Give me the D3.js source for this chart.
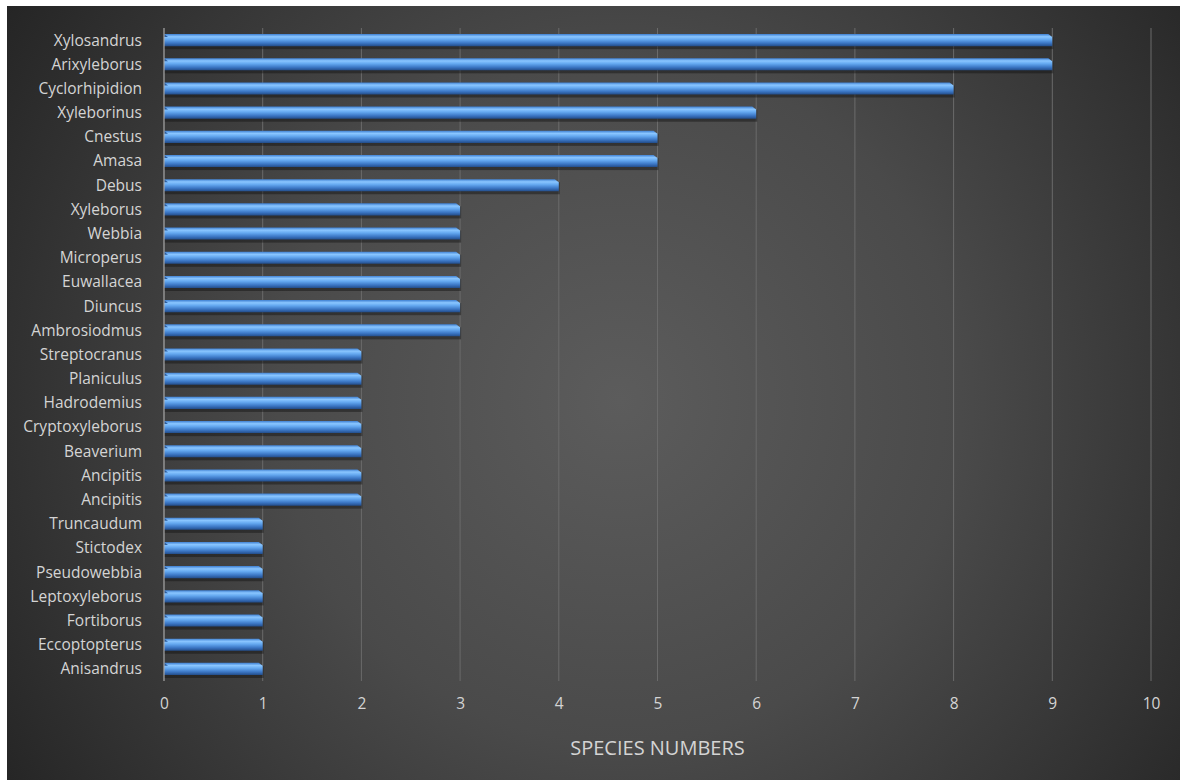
<!DOCTYPE html>
<html>
<head>
<meta charset="utf-8">
<script src="https://cdn.jsdelivr.net/npm/d3@7"></script>
<style>
  html, body { margin: 0; padding: 0; background: #ffffff; }
  svg { display: block; }
</style>
</head>
<body>
<div id="chart"></div>
<script>
// Genus names, top to bottom as shown
const genera = [
    'Xylosandrus', 'Arixyleborus', 'Cyclorhipidion', 'Xyleborinus', 'Cnestus',
    'Amasa', 'Debus', 'Xyleborus', 'Webbia', 'Microperus', 'Euwallacea',
    'Diuncus', 'Ambrosiodmus', 'Streptocranus', 'Planiculus', 'Hadrodemius',
    'Cryptoxyleborus', 'Beaverium', 'Ancipitis', 'Ancipitis', 'Truncaudum',
    'Stictodex', 'Pseudowebbia', 'Leptoxyleborus', 'Fortiborus',
    'Eccoptopterus', 'Anisandrus'
];
// Number of species per genus
const speciesCounts = [9, 9, 8, 6, 5, 5, 4, 3, 3, 3, 3, 3, 3, 2, 2, 2, 2, 2, 2, 2, 1, 1, 1, 1, 1, 1, 1];
const xTicks = [0, 1, 2, 3, 4, 5, 6, 7, 8, 9, 10];
const xTitle = 'SPECIES NUMBERS';

const W = 1180, H = 780;
const margin = { top: 28, right: 29, bottom: 99, left: 164 };
const width = W - margin.left - margin.right;
const height = H - margin.top - margin.bottom;
const font = '"Open Sans", "Noto Sans", sans-serif';
const textColor = '#d4d4d4';

const svg = d3.select('#chart').append('svg')
    .attr('width', W)
    .attr('height', H);

// background and bar gradients
const defs = svg.append('defs');
const bg = defs.append('radialGradient')
    .attr('id', 'bg')
    .attr('gradientUnits', 'userSpaceOnUse')
    .attr('cx', 620).attr('cy', 400).attr('r', 760);
bg.append('stop').attr('offset', '0%').attr('stop-color', '#5c5c5c');
bg.append('stop').attr('offset', '45%').attr('stop-color', '#4a4a4a');
bg.append('stop').attr('offset', '100%').attr('stop-color', '#222222');

const barGrad = defs.append('linearGradient')
    .attr('id', 'barGrad')
    .attr('x1', 0).attr('y1', 0).attr('x2', 0).attr('y2', 1);
[['0%', '#3f80d2'], ['22%', '#8ac6ff'], ['45%', '#64a8f0'], ['75%', '#3b76c4'], ['100%', '#234d8a']]
    .forEach(([o, c]) => barGrad.append('stop').attr('offset', o).attr('stop-color', c));

svg.append('rect').attr('width', W).attr('height', H).attr('fill', '#ffffff');
svg.append('rect')
    .attr('x', 7).attr('y', 6)
    .attr('width', W - 7).attr('height', H - 6)
    .attr('fill', 'url(#bg)');

const g = svg.append('g').attr('transform', `translate(${margin.left},${margin.top})`);

const x = d3.scaleLinear().domain([0, 10]).range([0, width]);
const y = d3.scaleBand()
    .domain(d3.range(genera.length))
    .range([0, height])
    .paddingInner(0.5)
    .paddingOuter(0.25);

// vertical gridlines
g.selectAll('.grid')
    .data(xTicks.slice(1))
    .enter().append('line')
    .attr('x1', d => x(d)).attr('x2', d => x(d))
    .attr('y1', 0).attr('y2', height)
    .attr('stroke', '#6b6b6b')
    .attr('stroke-width', 1);

// bar shadows
const bh = y.bandwidth();
g.selectAll('.shadow')
    .data(speciesCounts)
    .enter().append('rect')
    .attr('x', 0)
    .attr('y', (d, i) => y(i) + 3)
    .attr('width', d => x(d) + 1)
    .attr('height', bh)
    .attr('fill', '#111')
    .attr('opacity', 0.45);

// bars with bevelled tip
g.selectAll('.bar')
    .data(speciesCounts)
    .enter().append('path')
    .attr('d', (d, i) => {
        const y0 = y(i), x1 = x(d);
        return `M0,${y0}H${x1 - 4}L${x1},${y0 + 3}V${y0 + bh}H0Z`;
    })
    .attr('fill', 'url(#barGrad)');

// left bevel
g.selectAll('.bevel')
    .data(speciesCounts)
    .enter().append('path')
    .attr('d', (d, i) => {
        const y0 = y(i);
        return `M0,${y0}L4,${y0 + 3}H0Z`;
    })
    .attr('fill', '#2a5a9a');

// left axis line
g.append('line')
    .attr('x1', 0).attr('x2', 0)
    .attr('y1', 0).attr('y2', height)
    .attr('stroke', '#a8a8a8')
    .attr('stroke-width', 1.2);

// category labels
g.selectAll('.cat')
    .data(genera)
    .enter().append('text')
    .attr('x', -22)
    .attr('y', (d, i) => y(i) + bh / 2)
    .attr('dy', '0.35em')
    .attr('text-anchor', 'end')
    .attr('fill', textColor)
    .style('font-family', font)
    .style('font-size', '15.5px')
    .text(d => d);

// x tick labels
const xAxis = g.append('g')
    .attr('transform', `translate(0,${height})`)
    .call(d3.axisBottom(x).tickValues(xTicks).tickSize(0).tickPadding(17));
xAxis.select('.domain').remove();
xAxis.selectAll('text')
    .attr('fill', textColor)
    .style('font-family', font)
    .style('font-size', '15.5px');

// axis title
g.append('text')
    .attr('x', width / 2)
    .attr('y', height + 74)
    .attr('text-anchor', 'middle')
    .attr('fill', textColor)
    .style('font-family', font)
    .style('font-size', '20px')
    .text(xTitle);
</script>
</body>
</html>
